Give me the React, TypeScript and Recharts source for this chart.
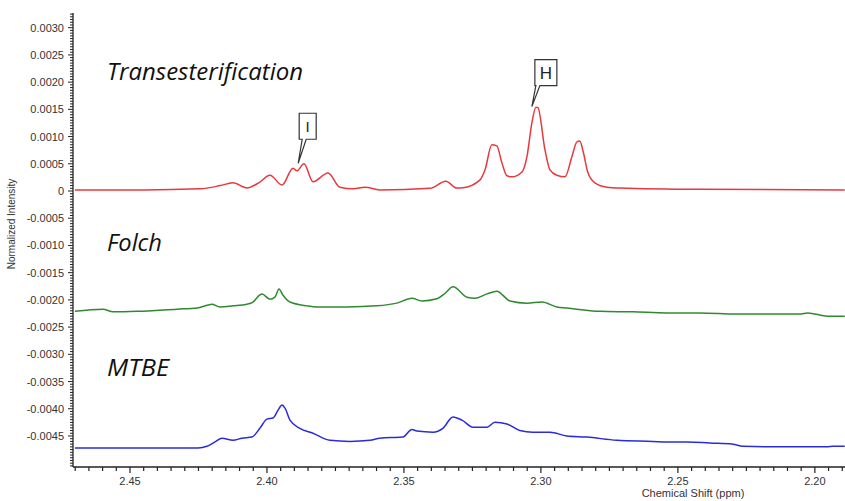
import { CartesianGrid, Customized, Line, LineChart, ReferenceDot, XAxis, YAxis } from "recharts";

// [chemical shift ppm, normalized intensity]
const transesterification = [
  [2.4701, 0.00002], [2.445, 0.00002], [2.4245, 0.00004], [2.417, 0.0001], [2.4124, 0.00015],
  [2.4073, 0.000055], [2.403, 0.00015], [2.3989, 0.00029], [2.3945, 0.00011], [2.3905, 0.00042],
  [2.3891, 0.00037], [2.3865, 0.0005], [2.3832, 0.00017], [2.3777, 0.00033], [2.3734, 0.00007],
  [2.3686, 0.00004], [2.3642, 0.00007], [2.3588, 0.00002], [2.3405, 0.00005], [2.3347, 0.00018],
  [2.3307, 0.000055], [2.3285, 0.00006], [2.3223, 0.0002], [2.3204, 0.00039], [2.3179, 0.00085],
  [2.3161, 0.00083], [2.3142, 0.00051], [2.3124, 0.00028], [2.3106, 0.00026], [2.3069, 0.00035],
  [2.3051, 0.00063], [2.3033, 0.00125], [2.3018, 0.00154], [2.3011, 0.00153], [2.2985, 0.00075],
  [2.2967, 0.00039], [2.2942, 0.00029], [2.2912, 0.00026], [2.2887, 0.00063], [2.2869, 0.0009],
  [2.2858, 0.00092], [2.2847, 0.00075], [2.2828, 0.00033], [2.2803, 0.00015], [2.2759, 0.00007],
  [2.2712, 0.000055], [2.242, 0.00003], [2.1891, 0.00002],
];

const folch = [
  [2.4701, -0.00221], [2.4599, -0.00217], [2.4562, -0.00222], [2.4474, -0.00221], [2.4328, -0.00217],
  [2.4255, -0.00215], [2.4219, -0.0021], [2.4201, -0.00208], [2.4172, -0.00213], [2.4124, -0.00211],
  [2.4073, -0.00208], [2.4051, -0.00204], [2.4026, -0.00191], [2.4018, -0.00189], [2.3989, -0.00199],
  [2.3971, -0.00195], [2.3956, -0.0018], [2.3942, -0.00191], [2.3916, -0.00204], [2.3854, -0.00211],
  [2.3818, -0.00213], [2.3708, -0.00213], [2.3599, -0.00211], [2.3526, -0.00206], [2.3471, -0.00197],
  [2.3434, -0.00202], [2.338, -0.00198], [2.335, -0.00188], [2.3321, -0.00176], [2.327, -0.00195],
  [2.3241, -0.00197], [2.3197, -0.00189], [2.3161, -0.00184], [2.3113, -0.00202], [2.3051, -0.00206],
  [2.2996, -0.00204], [2.2942, -0.00213], [2.2905, -0.00215], [2.2785, -0.00221], [2.2664, -0.00222],
  [2.254, -0.00224], [2.242, -0.00224], [2.2285, -0.00226], [2.2055, -0.00226], [2.2026, -0.00224],
  [2.1953, -0.0023], [2.1891, -0.0023],
];

const mtbe = [
  [2.4701, -0.00472], [2.4252, -0.00472], [2.4219, -0.00469], [2.419, -0.00461], [2.4164, -0.00454],
  [2.4124, -0.00458], [2.4091, -0.00454], [2.4055, -0.00452], [2.4026, -0.00436], [2.4, -0.00419],
  [2.3978, -0.00417], [2.396, -0.00403], [2.3945, -0.00393], [2.3934, -0.00399], [2.3916, -0.00421],
  [2.388, -0.00436], [2.3832, -0.00445], [2.377, -0.00458], [2.3697, -0.0046], [2.3624, -0.00458],
  [2.3588, -0.00454], [2.3504, -0.00452], [2.3471, -0.00438], [2.3453, -0.00441], [2.3394, -0.00443],
  [2.3358, -0.00436], [2.3321, -0.00415], [2.3288, -0.00421], [2.3248, -0.00434], [2.3197, -0.00434],
  [2.3168, -0.00425], [2.3124, -0.00428], [2.3077, -0.0044], [2.3029, -0.00443], [2.2967, -0.00443],
  [2.2905, -0.0045], [2.2832, -0.00452], [2.2723, -0.00458], [2.2591, -0.0046], [2.254, -0.00461],
  [2.2467, -0.00461], [2.2383, -0.00463], [2.2299, -0.00465], [2.2263, -0.00469], [2.2102, -0.0047],
  [2.1956, -0.0047], [2.1934, -0.00469], [2.1891, -0.00469],
];

const series = [
  { name: "Transesterification", points: transesterification, color: "#e8383d", textY: 80, textW: 196 },
  { name: "Folch", points: folch, color: "#2f8a2f", textY: 251, textW: 55 },
  { name: "MTBE", points: mtbe, color: "#2b2bd9", textY: 376, textW: 62 },
];

const xLabels = [2.45, 2.4, 2.35, 2.3, 2.25, 2.2];
const yLabels = [0.003, 0.0025, 0.002, 0.0015, 0.001, 0.0005, 0, -0.0005, -0.001, -0.0015, -0.002, -0.0025, -0.003, -0.0035, -0.004, -0.0045];

// peak callouts [label, ppm, intensity]
const callouts: [string, number, number][] = [
  ["I", 2.3886, 0.00051],
  ["H", 2.3033, 0.00155],
];

const xTicks: number[] = [];
for (let i = 438; i <= 494; i++) xTicks.push(+(i * 0.005).toFixed(3));
const yTicks: number[] = [];
for (let i = -101; i <= 65; i++) yTicks.push(+(i * 0.00005).toFixed(5));

const isMajor = (v: number, list: number[]) => list.some((m) => Math.abs(m - v) < 1e-7);
const fmtY = (v: number) => (Math.abs(v) < 1e-9 ? "0" : v.toFixed(4));

const font = "'Liberation Sans', Arial, sans-serif";

function XTick({ x, y, payload }: any) {
  const major = isMajor(payload.value, xLabels);
  return (
    <g>
      <line x1={x} x2={x} y1={y} y2={y + (major ? 6 : 4)} stroke="#222" strokeWidth={1.2} />
      {major && (
        <text x={x} y={y + 18} textAnchor="middle" fontFamily={font} fontSize={11} fill="#333">
          {payload.value.toFixed(2)}
        </text>
      )}
    </g>
  );
}

function YTick({ x, y, payload }: any) {
  const major = isMajor(payload.value, yLabels);
  return (
    <g>
      <line x1={x - (major ? 5 : 3)} x2={x} y1={y} y2={y} stroke="#222" strokeWidth={1} />
      {major && (
        <text x={x - 9} y={y + 4} textAnchor="end" fontFamily={font} fontSize={11} fill="#333">
          {fmtY(payload.value)}
        </text>
      )}
    </g>
  );
}

function Callout({ cx, cy, label }: any) {
  const big = label === "H";
  const w = big ? 22 : 17;
  const h = big ? 26 : 26;
  const gap = big ? 21 : 24;
  const x0 = cx + (big ? 3 : 1);
  const y1 = cy - gap;
  const y0 = y1 - h;
  const d = `M${x0},${y0} H${x0 + w} V${y1} H${cx + 8} L${cx},${cy} L${cx + 4},${y1} H${x0} Z`;
  return (
    <g>
      <path d={d} fill="#fff" stroke="#333" strokeWidth={1.2} />
      <text x={x0 + w / 2} y={y0 + h / 2 + 6} textAnchor="middle" fontFamily={font} fontSize={big ? 17 : 15} fill="#222">
        {label}
      </text>
    </g>
  );
}

function SeriesNames() {
  return (
    <g>
      {series.map((s) => (
        <text
          key={s.name}
          x={107}
          y={s.textY}
          fontFamily="'Open Sans', sans-serif"
          fontStyle="italic"
          fontSize={23}
          fill="#111"
          textLength={s.textW}
          lengthAdjust="spacingAndGlyphs"
        >
          {s.name}
        </text>
      ))}
      <text x={15} y={224} transform="rotate(-90 15 224)" textAnchor="middle" fontFamily={font} fontSize={10} fill="#333">
        Normalized Intensity
      </text>
      <text x={693} y={497} textAnchor="middle" fontFamily={font} fontSize={11} fill="#333">
        Chemical Shift (ppm)
      </text>
    </g>
  );
}

export default function App() {
  return (
    <div style={{ position: "absolute", left: 0, top: 0, background: "#fff" }}>
      <LineChart width={845} height={501} margin={{ top: 13, right: 0, bottom: 0, left: 0 }}>
        <CartesianGrid stroke="none" />
        <XAxis
          type="number"
          dataKey="ppm"
          domain={[2.189, 2.4708]}
          reversed
          allowDataOverflow
          ticks={xTicks}
          interval={0}
          height={34}
          tickSize={0}
          tickMargin={0}
          tickLine={false}
          axisLine={{ stroke: "#222", strokeWidth: 1.3 }}
          tick={<XTick />}
        />
        <YAxis
          type="number"
          domain={[-0.00507, 0.00327]}
          allowDataOverflow
          ticks={yTicks}
          interval={0}
          width={73}
          tickSize={0}
          tickMargin={0}
          tickLine={false}
          axisLine={{ stroke: "#222", strokeWidth: 1.3 }}
          tick={<YTick />}
        />
        {series.map((s) => (
          <Line
            key={s.name}
            data={s.points.map(([ppm, v]) => ({ ppm, v }))}
            dataKey="v"
            type="monotone"
            stroke={s.color}
            strokeWidth={1.5}
            dot={false}
            isAnimationActive={false}
          />
        ))}
        {callouts.map(([label, ppm, v]) => (
          <ReferenceDot
            key={label}
            x={ppm}
            y={v}
            r={0}
            ifOverflow="visible"
            shape={(p: any) => <Callout cx={p.cx} cy={p.cy} label={label} />}
          />
        ))}
        <Customized component={SeriesNames} />
      </LineChart>
    </div>
  );
}
